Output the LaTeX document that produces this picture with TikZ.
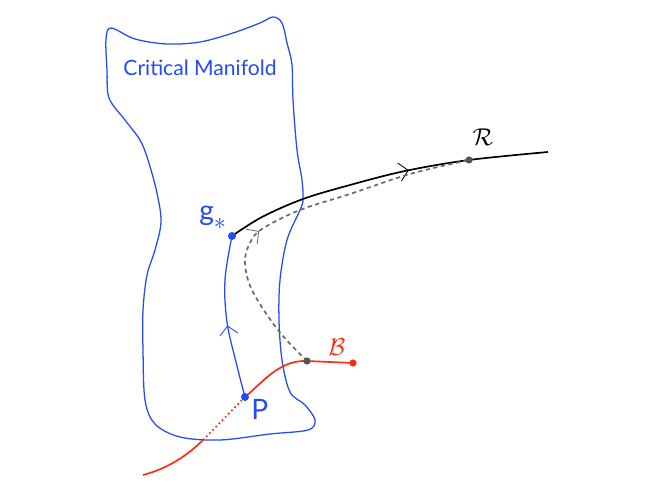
\documentclass[tikz,border=0pt]{standalone}
\usepackage{fontspec}
\setsansfont{Lato}
\usetikzlibrary{arrows.meta,decorations.markings}

\definecolor{manifoldBlue}{RGB}{35,75,245}
\definecolor{basinRed}{RGB}{250,45,15}
\definecolor{flowGray}{RGB}{105,105,105}

\tikzset{
  barb/.tip={Straight Barb[length=2.2mm,width=4.6mm,line width=0.6pt]},
  midarrow/.style={postaction={decorate,decoration={markings,
      mark=at position #1 with {\arrow{barb}}}}},
  dot/.style={circle,fill,inner sep=0pt,minimum size=2mm},
  bigtext/.style={font=\sffamily\fontsize{20}{22}\selectfont}
}

\begin{document}
\begin{tikzpicture}[x=0.025cm,y=-0.025cm]
  \useasboundingbox (0,0) rectangle (654,491);

  \coordinate (P) at (245,397);
  \coordinate (gs) at (232,236);
  \coordinate (Rpt) at (469,160);
  \coordinate (Rend) at (548,152);
  \coordinate (Bpt) at (307,361);
  \coordinate (Bend) at (353,363);
  \coordinate (Bstart) at (143,475);
  \coordinate (Bcross) at (203,440);

  \begin{scope}[manifoldBlue, line width=0.9pt]
    \draw plot[smooth cycle, tension=0.55] coordinates {
      (111,28) (135,39) (167,44) (200,42) (233,33) (260,23) (273,17)
      (282,23) (287,43) (292,65) (293,100) (297,150) (302,180) (303,200)
      (300,210) (287,240) (280,280) (279,320) (282,360) (290,392)
      (305,405) (315,420) (308,430) (270,434) (220,440) (180,437)
      (155,424) (145,400) (143,350) (143,310) (147,275) (155,250)
      (161,222) (157,193) (148,160) (140,140) (125,120) (109,98)
      (107,70) (106,40)};
    \node[font=\sffamily\fontsize{15}{17}\selectfont] (cmLabel) at (200,68) {Critical Manifold};

    \draw[midarrow=0.45] plot[smooth, tension=0.6] coordinates {
      (P) (236,362) (227,322) (225,280) (gs)};
  \end{scope}

  \draw[line width=1.2pt, midarrow=0.575] plot[smooth, tension=0.55] coordinates {
    (gs) (262,217) (303,199) (350,185) (405,171) (Rpt) (Rend)};

  \draw[flowGray, line width=1.2pt, dash pattern=on 3pt off 2.5pt, midarrow=0.41]
    plot[smooth, tension=0.6] coordinates {
    (Bpt) (278,330) (252,290) (245,262) (250,243) (262,229) (300,210)
    (350,194) (410,174) (Rpt)};

  \begin{scope}[basinRed, line width=1.2pt]
    \draw (Bstart) .. controls (170,468) and (190,453) .. (Bcross);
    \draw[dotted] (Bcross) .. controls (218,425) and (232,410) .. (P);
    \draw (P) .. controls (265,380) and (280,360) .. (Bpt) -- (Bend);
    \node[dot, minimum size=1.8mm] (BendDot) at (Bend) {};
    \node[font=\fontsize{17}{20}\selectfont] (Blabel) at (337,347) {$\mathcal{B}$};
  \end{scope}

  \node[dot, flowGray!80!black, minimum size=1.8mm] (RDot) at (Rpt) {};
  \node[dot, flowGray!80!black, minimum size=1.8mm] (BDot) at (Bpt) {};
  \node[font=\fontsize{17}{20}\selectfont] (Rlabel) at (483,137) {$\mathcal{R}$};

  \node[dot, manifoldBlue] (gsDot) at (gs) {};
  \node[dot, manifoldBlue] (PDot) at (P) {};
  \node[bigtext, manifoldBlue, anchor=base west, inner sep=0pt] (gLabel) at (199,221)
    {g\raisebox{-0.3em}{\fontsize{17}{17}\selectfont$\ast$}};
  \node[bigtext, manifoldBlue, anchor=base west, inner sep=0pt] (PLabel) at (251,420) {P};
\end{tikzpicture}
\end{document}
